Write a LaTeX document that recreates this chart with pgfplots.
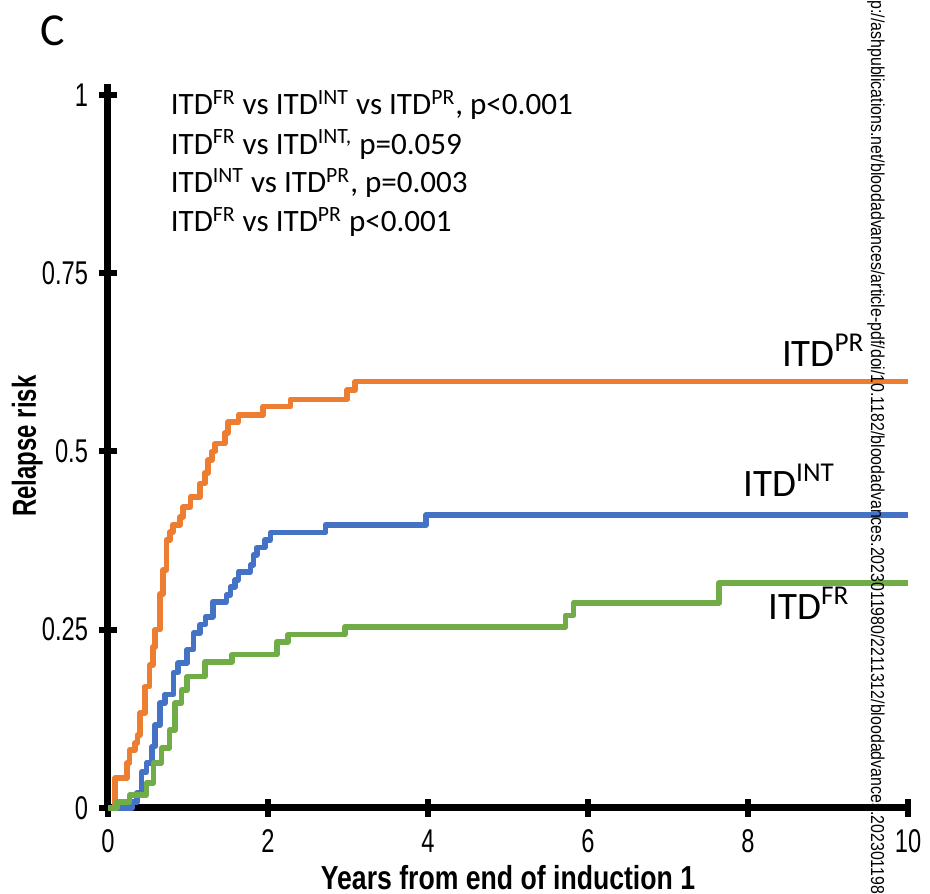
\documentclass[border=0pt]{standalone}
\usepackage{pgfplots}
\pgfplotsset{compat=1.18}
\usepackage{fontspec}
\setmainfont{Carlito}
\newfontfamily\arialn[FakeStretch=0.72]{Liberation Sans}
\newfontfamily\arialx[FakeStretch=0.8]{Liberation Sans}
\newfontfamily\arialw[FakeStretch=0.85]{Liberation Sans}
\definecolor{cpr}{HTML}{ED7D31}
\definecolor{cint}{HTML}{4472C4}
\definecolor{cfr}{HTML}{70AD47}

\begin{document}
\begin{tikzpicture}
\begin{axis}[
scale only axis,
width=400bp, height=361.8bp,
xmin=0, xmax=10, ymin=0, ymax=1.015,
axis lines=left,
axis line style={-, line width=3.5bp},
xtick={0,2,4,6,8,10},
ytick={0,0.25,0.5,0.75,1},
yticklabels={0,0.25,0.5,0.75,1},
tick align=center,
major tick length=9bp,
every tick/.style={black, line width=3bp},
/pgf/number format/assume math mode=true,
ticklabel style={font=\arialn\fontsize{16.5}{18}\selectfont},
yticklabel style={xshift=-2bp},
xticklabel style={yshift=-3bp},
xlabel={Years from end of induction 1},
ylabel={Relapse risk},
xlabel style={font=\arialx\bfseries\fontsize{16.7}{18}\selectfont, at={(rel axis cs:0.5,-0.0967)}, anchor=center},
ylabel style={font=\arialn\bfseries\fontsize{16.7}{18}\selectfont, at={(rel axis cs:-0.101,0.5)}, anchor=center, rotate=0},
clip=false,
line join=round,
]
\addplot[cpr, line width=2.8bp, const plot] coordinates {
(0,0) (0.09,0.042) (0.24,0.063) (0.27,0.081) (0.34,0.091) (0.37,0.102)
(0.40,0.133) (0.46,0.17) (0.52,0.20) (0.56,0.226) (0.59,0.25) (0.65,0.30)
(0.69,0.334) (0.73,0.376) (0.775,0.387) (0.81,0.397) (0.90,0.408) (0.94,0.422)
(1.03,0.436) (1.15,0.455) (1.21,0.47) (1.25,0.488) (1.30,0.50) (1.34,0.511)
(1.46,0.526) (1.50,0.541) (1.63,0.551) (1.94,0.563) (2.28,0.573) (2.99,0.586)
(3.09,0.598) (10,0.598)
};
\addplot[cint, line width=2.8bp, const plot] coordinates {
(0,0) (0.30,0.008) (0.36,0.021) (0.42,0.05) (0.48,0.063) (0.55,0.086)
(0.59,0.116) (0.65,0.147) (0.71,0.159) (0.82,0.19) (0.875,0.203) (0.99,0.222)
(1.07,0.245) (1.15,0.257) (1.22,0.268) (1.31,0.289) (1.48,0.299) (1.53,0.31)
(1.59,0.32) (1.63,0.331) (1.78,0.341) (1.82,0.355) (1.86,0.365) (1.96,0.376)
(2.03,0.386) (2.72,0.397) (3.975,0.411) (10,0.411)
};
\addplot[cfr, line width=2.8bp, const plot] coordinates {
(0,0) (0.11,0.008) (0.27,0.018) (0.48,0.035) (0.57,0.063) (0.67,0.084)
(0.77,0.109) (0.84,0.147) (0.92,0.165) (0.99,0.184) (1.21,0.205) (1.55,0.215)
(2.11,0.233) (2.25,0.243) (2.96,0.254) (5.72,0.27) (5.82,0.2875) (7.64,0.3156)
(10,0.3156)
};
% annotations
\begin{scope}[every node/.style={anchor=base west, inner sep=0, font=\fontsize{15.6}{18}\selectfont}]
\node at (axis cs:0.78,0.972) {ITD\textsuperscript{FR} vs ITD\textsuperscript{INT} vs ITD\textsuperscript{PR}, p<0.001};
\node at (axis cs:0.78,0.917) {ITD\textsuperscript{FR} vs ITD\textsuperscript{INT,} p=0.059};
\node at (axis cs:0.78,0.8626) {ITD\textsuperscript{INT} vs ITD\textsuperscript{PR}, p=0.003};
\node at (axis cs:0.78,0.808) {ITD\textsuperscript{FR} vs ITD\textsuperscript{PR} p<0.001};
\end{scope}
\begin{scope}[every node/.style={anchor=base west, inner sep=0, font=\fontsize{19.5}{22}\selectfont}]
\node at (axis cs:8.42,0.6185) {ITD\textsuperscript{PR}};
\node at (axis cs:7.94,0.4365) {ITD\textsuperscript{INT}};
\node at (axis cs:8.25,0.2637) {ITD\textsuperscript{FR}};
\end{scope}
\node[anchor=base west, inner sep=0, font=\fontsize{23}{26}\selectfont] at (axis cs:-0.85,1.07) {C};
\node[rotate=-90, anchor=west, inner sep=0, font=\arialw\fontsize{9.4}{10}\selectfont] at (axis cs:9.6,1.133)
 {p://ashpublications.net/bloodadvances/article-pdf/doi/10.1182/bloodadvances.2023011980/2211312/bloodadvances.2023011980.pdf};
\coordinate (bl) at (axis cs:-1.35,-0.1206);
\coordinate (tr) at (axis cs:10.275,1.1332);
\end{axis}
\pgfresetboundingbox
\path[use as bounding box] (bl) rectangle (tr);
\end{tikzpicture}
\end{document}
